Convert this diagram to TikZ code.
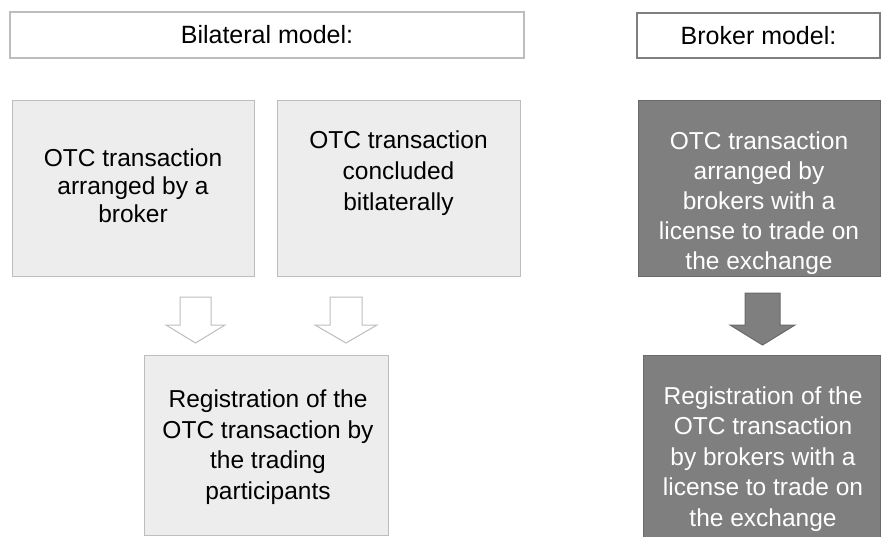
\documentclass[tikz,border=0pt]{standalone}
\usepackage{fontspec}
\setmainfont{Liberation Sans}
\usetikzlibrary{positioning}
\definecolor{lightbox}{HTML}{EDEDED}
\definecolor{lightline}{HTML}{BDBDBD}
\definecolor{darkbox}{HTML}{7F7F7F}
\definecolor{darkline}{HTML}{6A6A6A}
\tikzset{
  headbox/.style={draw=lightline,line width=1.5pt,fill=white,font=\fontsize{25}{28}\selectfont},
  lightcell/.style={draw=lightline,line width=1pt,fill=lightbox},
  darkcell/.style={draw=darkline,line width=1pt,fill=darkbox},
  celltext/.style={align=center,font=\fontsize{24.5}{30}\selectfont},
}
\begin{document}
\begin{tikzpicture}[x=1pt,y=-1pt]
		\useasboundingbox (0,0) rectangle (882,536);
		% headers
		\node[headbox,minimum width=514pt,minimum height=46pt] (bilat) at (267,35) {Bilateral model:};
		\node[headbox,draw=darkbox,minimum width=243pt,minimum height=45pt] (broker) at (758.5,35.5) {Broker model:};
		% bilateral model
		\node[lightcell,minimum width=242pt,minimum height=176pt] (arranged) at (133,188) {};
		\node[celltext,font=\fontsize{24.5}{28}\selectfont] (arrangedtxt) at (133,186) {OTC transaction\\arranged by a\\broker};
		\node[lightcell,minimum width=243pt,minimum height=176pt] (concluded) at (398.5,188) {};
		\node[celltext,font=\fontsize{24.5}{31}\selectfont] (concludedtxt) at (398.5,173) {OTC transaction\\concluded\\bitlaterally};
		\node[lightcell,minimum width=244pt,minimum height=180pt] (register) at (266,445) {};
		\node[celltext,font=\fontsize{24.5}{30.5}\selectfont] (registertxt) at (268,447) {Registration of the\\OTC transaction by\\the trading\\participants};
		\draw[lightline,fill=white,line width=1pt] (180,297) -- (211,297) -- (211,325) -- (225,325)
			-- (195.5,343) -- (166,325) -- (180,325) -- cycle;
		\draw[lightline,fill=white,line width=1pt] (330,297) -- (362,297) -- (362,325) -- (377,325)
			-- (346,343) -- (315,325) -- (330,325) -- cycle;
		% broker model
		\node[darkcell,minimum width=242pt,minimum height=176pt] (brokered) at (759,188) {};
		\node[celltext,text=white] (brokeredtxt) at (759,203) {OTC transaction\\arranged by\\brokers with a\\license to trade on\\the exchange};
		\node[darkcell,minimum width=237pt,minimum height=182pt] (brokreg) at (761.5,446) {};
		\node[celltext,text=white,font=\fontsize{24.5}{30.5}\selectfont] (brokregtxt) at (763,459) {Registration of the\\OTC transaction\\by brokers with a\\license to trade on\\the exchange};
		\draw[darkline,fill=darkbox,line width=1pt] (745,293) -- (780,293) -- (780,325) -- (795,325)
			-- (762.5,345) -- (730,325) -- (745,325) -- cycle;
		\end{tikzpicture}
\end{document}
